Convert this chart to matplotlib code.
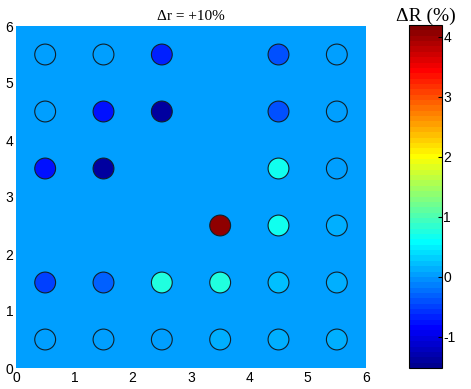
import matplotlib
matplotlib.use("Agg")
import matplotlib.pyplot as plt
import numpy as np
from matplotlib.colors import Normalize, ListedColormap

# data: circle centres and their ΔR (%) values
x_pos = [0.5, 1.5, 2.5, 4.5, 5.5,
         0.5, 1.5, 2.5, 4.5, 5.5,
         0.5, 1.5, 4.5, 5.5,
         3.5, 4.5, 5.5,
         0.5, 1.5, 2.5, 3.5, 4.5, 5.5,
         0.5, 1.5, 2.5, 3.5, 4.5, 5.5]
y_pos = [5.5, 5.5, 5.5, 5.5, 5.5,
         4.5, 4.5, 4.5, 4.5, 4.5,
         3.5, 3.5, 3.5, 3.5,
         2.5, 2.5, 2.5,
         1.5, 1.5, 1.5, 1.5, 1.5, 1.5,
         0.5, 0.5, 0.5, 0.5, 0.5, 0.5]
delta_R = [0.0, 0.08, -0.7, -0.38, 0.0,
           0.08, -0.8, -1.35, -0.38, 0.0,
           -0.8, -1.35, 0.65, 0.0,
           4.1, 0.65, 0.15,
           -0.5, -0.35, 0.8, 0.75, 0.2, 0.15,
           0.0, 0.0, 0.0, 0.15, 0.15, 0.15]
background_value = 0.0
clim = (-1.52, 4.2)
x_ticks = [0, 1, 2, 3, 4, 5, 6]
y_ticks = [0, 1, 2, 3, 4, 5, 6]
cbar_ticks = [-1, 0, 1, 2, 3, 4]
title = "\u0394r = +10%"
cbar_label = "\u0394R (%)"


def matlab_jet(m=64):
    n = int(np.ceil(m / 4))
    u = np.concatenate([np.arange(1, n + 1) / n, np.ones(n - 1), np.arange(n, 0, -1) / n])
    g = int(np.ceil(n / 2)) - (1 if m % 4 == 1 else 0) + np.arange(1, len(u) + 1)
    r = g + n
    b = g - n
    J = np.zeros((m, 3))
    for ch, idx in ((0, r), (1, g), (2, b)):
        ok = (idx >= 1) & (idx <= m)
        J[idx[ok] - 1, ch] = u[ok]
    return ListedColormap(J)


cmap = matlab_jet(64)
norm = Normalize(*clim)

fig = plt.figure(figsize=(4.71, 3.89), dpi=100)
ax = fig.add_axes([16/471, 1-368/389, 350/471, 342/389])
ax.set_facecolor(cmap(norm(background_value)))
sc = ax.scatter(x_pos, y_pos, c=delta_R, cmap=cmap, norm=norm, s=225,
                edgecolors="#10202a", linewidths=0.8, zorder=3)
ax.set_xlim(0, 6)
ax.set_ylim(0, 6)
ax.set_xticks(x_ticks)
ax.set_yticks(y_ticks)
tick_font = dict(family=["Liberation Sans", "DejaVu Sans"], size=10)
ax.set_xticklabels([str(t) for t in x_ticks], **tick_font)
ax.set_yticklabels([str(t) for t in y_ticks], **tick_font)
ax.tick_params(direction="in", length=0, pad=2)
for s in ax.spines.values():
    s.set_visible(False)
ax.set_title(title, family=["Liberation Serif", "DejaVu Serif"], size=11, pad=4)

cax = fig.add_axes([409/471, 1-368/389, 33/471, 343/389])
cb = fig.colorbar(sc, cax=cax)
cb.set_ticks(cbar_ticks)
cb.ax.set_yticklabels([str(t) for t in cbar_ticks], **tick_font)
cb.ax.tick_params(direction="in", length=3, width=0.8, pad=1)
cb.outline.set_linewidth(0.8)
cax.set_title(cbar_label, family=["Liberation Serif", "DejaVu Serif"], size=14, pad=3)

fig.savefig("out.png", dpi=100)
